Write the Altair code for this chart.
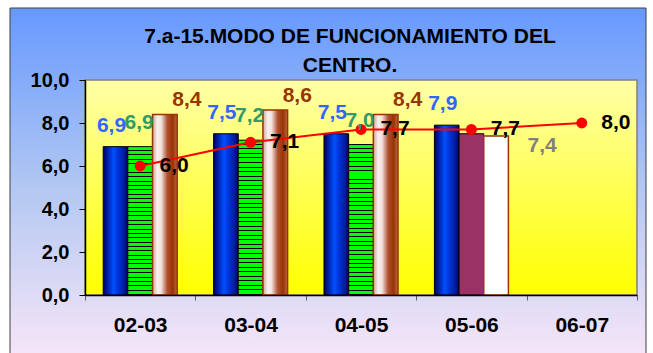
import altair as alt
import pandas as pd

# ---- data ----
categorias = ["02-03", "03-04", "04-05", "05-06", "06-07"]
serie1 = [6.9, 7.5, 7.5, 7.9, None]
serie2 = [6.9, 7.2, 7.0, 7.5, None]
serie3 = [8.4, 8.6, 8.4, 7.4, None]
linea = [6.0, 7.1, 7.7, 7.7, 8.0]
titulo = ["7.a-15.MODO DE FUNCIONAMIENTO DEL", "CENTRO."]
y_ticks = [0, 2, 4, 6, 8, 10]

rows = []
for i, c in enumerate(categorias):
    for s, vals in (("S1", serie1), ("S2", serie2), ("S3", serie3)):
        if vals[i] is not None:
            rows.append({"cat": c, "serie": s, "v": vals[i]})
bars_df = pd.DataFrame(rows)
line_df = pd.DataFrame({"cat": categorias, "v": linea})

FONT = "Liberation Sans"
fmt = "replace(format(datum.v, '.1f'), '.', ',')"

def grad(stops, horizontal=True):
    return alt.Gradient(
        gradient="linear",
        stops=[alt.GradientStop(offset=o, color=c) for o, c in stops],
        x1=0, y1=0, x2=1 if horizontal else 0, y2=0 if horizontal else 1,
    )

bg_grad = grad([(0, "#6699FF"), (0.5, "#B3C8F2"), (1, "#FCE8F8")], horizontal=False)
plot_grad = grad([(0, "#FFFFA8"), (1, "#FFFF00")], horizontal=False)
blue_grad = grad([(0, "#000060"), (0.18, "#0020A8"), (0.42, "#0050FF"),
                  (0.6, "#0034D8"), (0.85, "#001C9C"), (1, "#000060")])
brown_grad = grad([(0, "#D0A498"), (0.2, "#FAF0F0"), (0.35, "#F2E2DE"),
                   (0.6, "#B05030"), (0.82, "#993300"), (1, "#B86A50")])
green_stops = []
N = 34
d = 0.0065
for k in range(N):
    a, b = k / N, (k + 1) / N
    green_stops += [(a, "#00FF00"), (b - d, "#00FF00"), (b - d, "#000000"), (b, "#000000")]
green_grad = grad(green_stops, horizontal=False)

one = pd.DataFrame({"a": [0]})

background = alt.Chart(one).mark_rect(
    color=bg_grad, stroke="#404040", strokeWidth=1
).encode(x=alt.value(-75), x2=alt.value(561), y=alt.value(-72), y2=alt.value(290))

plot_bg = alt.Chart(one).mark_rect(
    color=plot_grad, stroke="#808080", strokeWidth=1.5
).encode(x=alt.value(0), x2=alt.value(552), y=alt.value(0), y2=alt.value(215))

def title_line(txt, yv):
    return alt.Chart(one).mark_text(
        font=FONT, fontSize=21, fontWeight="bold", color="#000000",
        align="center", baseline="middle"
    ).encode(x=alt.value(265), y=alt.value(yv), text=alt.value(txt))

t1 = title_line(titulo[0], -43)
t2 = title_line(titulo[1], -14)

x_enc = alt.X("cat:N", sort=categorias,
              scale=alt.Scale(domain=categorias, paddingInner=0, paddingOuter=0),
              axis=alt.Axis(title=None, tickBand="extent", labelAngle=0, tickSize=5,
                            tickColor="#606060", domainColor="#000000", domainWidth=1.5,
                            labelFont=FONT, labelFontSize=21, labelFontWeight="bold",
                            labelColor="#000000", labelPadding=14, zindex=1))
y_enc = alt.Y("v:Q", scale=alt.Scale(domain=[0, 10], nice=False),
              axis=alt.Axis(title=None, values=y_ticks, grid=False,
                            labelExpr="replace(format(datum.value, '.1f'), '.', ',')",
                            domainColor="#000000", domainWidth=1.5, tickColor="#000000",
                            tickSize=6, labelFont=FONT, labelFontSize=20,
                            labelFontWeight="bold", labelColor="#000000",
                            labelPadding=10, zindex=1))
xo_enc = alt.XOffset("serie:N", scale=alt.Scale(domain=["S1", "S2", "S3"],
                                                 paddingInner=0, paddingOuter=0.7375))

base = alt.Chart(bars_df).encode(x=x_enc, y=y_enc, xOffset=xo_enc)

first3 = alt.FieldOneOfPredicate(field="cat", oneOf=categorias[:3])
c4 = alt.FieldEqualPredicate(field="cat", equal="05-06")

bar_s1 = base.transform_filter("datum.serie == 'S1'").mark_bar(
    color=blue_grad, stroke="#000000", strokeWidth=1)
bar_s2a = base.transform_filter("datum.serie == 'S2'").transform_filter(first3).mark_bar(
    color=green_grad, stroke="#000000", strokeWidth=1)
bar_s2b = base.transform_filter("datum.serie == 'S2'").transform_filter(c4).mark_bar(
    color="#993366", stroke="#000000", strokeWidth=1)
bar_s3a = base.transform_filter("datum.serie == 'S3'").transform_filter(first3).mark_bar(
    color=brown_grad, stroke="#993300", strokeWidth=1.5)
bar_s3b = base.transform_filter("datum.serie == 'S3'").transform_filter(c4).mark_bar(
    color="#FFFFFF", stroke="#993300", strokeWidth=1.5)

def lbl(chart, color, dx, dy):
    return chart.transform_calculate(t=fmt).mark_text(
        font=FONT, fontSize=21, fontWeight="bold", color=color,
        dx=dx, dy=dy, baseline="middle", align="center"
    ).encode(text="t:N")

lab_s1 = lbl(base.transform_filter("datum.serie == 'S1'"), "#3366FF", -4, -21)
lab_s2 = lbl(base.transform_filter("datum.serie == 'S2'").transform_filter(first3), "#339966", -1, -24)
lab_s3 = lbl(base.transform_filter("datum.serie == 'S3'").transform_filter(first3), "#993300", 22, -14)
lab_s3b = lbl(base.transform_filter("datum.serie == 'S3'").transform_filter(c4), "#808080", 46, 10)

lbase = alt.Chart(line_df).encode(x=x_enc, y=y_enc)
line = lbase.mark_line(color="#FF0000", strokeWidth=2)
pts = lbase.mark_point(filled=True, color="#FF0000", size=120, opacity=1)
lab_line = lbl(lbase, "#000000", 34, 0)

chart = alt.layer(
    background, plot_bg, t1, t2, bar_s1, bar_s2a, bar_s2b, bar_s3a, bar_s3b,
    line, pts, lab_s1, lab_s2, lab_s3, lab_s3b, lab_line
).resolve_scale(x="shared", y="shared").properties(
    width=552, height=215,
    autosize=alt.AutoSizeParams(type="none"),
    padding={"left": 85, "top": 80, "right": 16, "bottom": 58},
    background="#FFFFFF",
).configure_view(stroke=None)

chart.save("out.html", embed_options={"renderer": "svg", "actions": False})
